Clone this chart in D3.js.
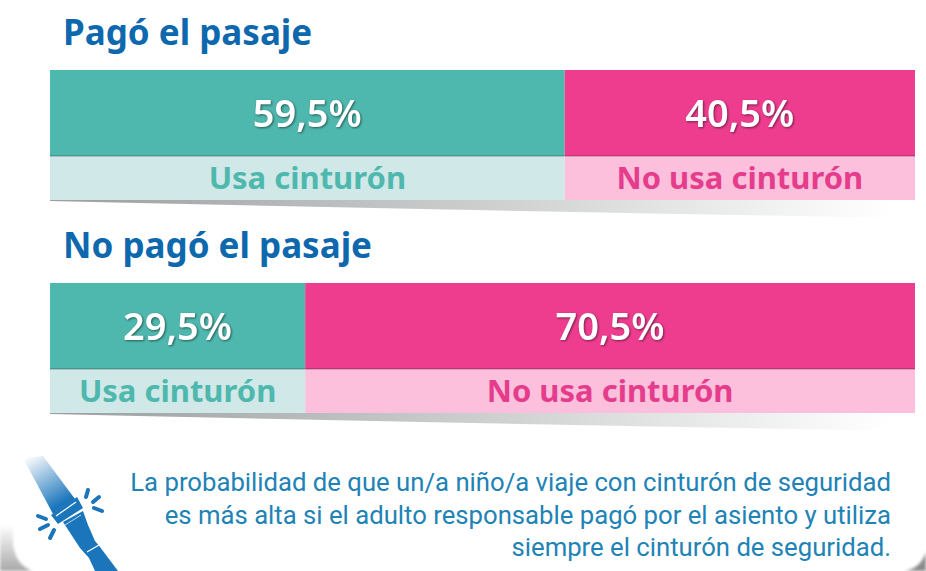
<!DOCTYPE html>
<html><head><meta charset="utf-8">
<script src="https://cdn.jsdelivr.net/npm/d3@7"></script>
<style>html,body{margin:0;padding:0;background:#fff;overflow:hidden}svg{display:block}text{font-family:"Noto Sans","Open Sans",sans-serif}</style>
</head><body><svg id="c" width="926" height="571"></svg>
<script>
const groups = ["Pagó el pasaje", "No pagó el pasaje"];
const usa = [59.5, 29.5];
const noUsa = [40.5, 70.5];
const categories = ["Usa cinturón", "No usa cinturón"];
const note = ["La probabilidad de que un/a niño/a viaje con cinturón de seguridad",
  "es más alta si el adulto responsable pagó por el asiento y utiliza",
  "siempre el cinturón de seguridad."];
const fmt = v => String(v).replace(".", ",") + "%";

const svg = d3.select("#c");
const x = d3.scaleLinear().domain([0, 100]).range([50, 915]);
const yTop = d3.scalePoint().domain(groups).range([70, 283]);
const barH = 86, labH = 44;
const defs = svg.append("defs");
const sg = defs.append("linearGradient").attr("id", "shade");
sg.append("stop").attr("offset", 0).attr("stop-color", "#9a9e9e");
sg.append("stop").attr("offset", .55).attr("stop-color", "#d2d4d4");
sg.append("stop").attr("offset", .97).attr("stop-color", "#fff");
const bg = defs.append("linearGradient").attr("id", "belt").attr("gradientUnits", "userSpaceOnUse").attr("x1", 30).attr("y1", 455).attr("x2", 60).attr("y2", 505);
bg.append("stop").attr("offset", 0).attr("stop-color", "#fff");
bg.append("stop").attr("offset", 1).attr("stop-color", "#1a75bb");
const cg = defs.append("linearGradient").attr("id", "card").attr("gradientUnits", "userSpaceOnUse").attr("x1", 0).attr("y1", 525).attr("x2", 0).attr("y2", 571);
cg.append("stop").attr("offset", 0).attr("stop-color", "#fff");
cg.append("stop").attr("offset", 1).attr("stop-color", "#a8a8a8");

groups.forEach((g, i) => {
  const t = yTop(g);
  svg.append("text").attr("x", 63).attr("y", t - 25).attr("font-size", 35).attr("font-weight", 700).attr("fill", "#0e68ad").text(g);
  const segs = [
    {a: 0, b: usa[i], c: "#4fb8ae", l: "#d0e8e7", tc: "#4fb8ae", cat: categories[0]},
    {a: usa[i], b: 100, c: "#ee3d8f", l: "#fdc0dc", tc: "#e63c8c", cat: categories[1]}
  ];
  const v = [usa[i], noUsa[i]];
  segs.forEach((s, j) => {
    const cx = (x(s.a) + x(s.b)) / 2;
    svg.append("rect").attr("x", x(s.a)).attr("y", t).attr("width", x(s.b) - x(s.a)).attr("height", barH).attr("fill", s.c);
    svg.append("rect").attr("x", x(s.a)).attr("y", t + barH).attr("width", x(s.b) - x(s.a)).attr("height", labH).attr("fill", s.l);
    svg.append("line").attr("x1", x(s.a)).attr("x2", x(s.b)).attr("y1", t + barH).attr("y2", t + barH)
      .attr("stroke", "#000").attr("stroke-opacity", .22).attr("stroke-width", 1.5);
    svg.append("text").attr("x", cx).attr("y", t + 57).attr("text-anchor", "middle").attr("font-size", 38).attr("font-weight", 600)
      .attr("fill", "#fff").style("filter", "drop-shadow(1px 1px 1px rgba(0,0,0,.5))").text(fmt(v[j]));
    svg.append("text").attr("x", cx).attr("y", t + barH + 33).attr("text-anchor", "middle").attr("font-size", 31).attr("font-weight", 700)
      .attr("fill", s.tc).text(s.cat);
  });
  const b = t + barH + labH;
  svg.append("path").attr("d", `M${x(0)},${b} L${x(100)},${b} L${x(100)},${b + 18} Q${x(50)},${b + 11} ${x(0)},${b + 1} Z`).attr("fill", "url(#shade)");
});

// card corner
svg.append("path").attr("d", "M13,515 V540 Q13,563 32,571 L0,571 L0,515 Z").attr("fill", "url(#card)").style("filter", "blur(1.5px)");
svg.append("path").attr("d", "M926,552 V571 H905 Q921,568 926,552 Z").attr("fill", "#8a8a8a").style("filter", "blur(1.5px)");

// belt icon
const belt = svg.append("g").attr("fill", "#1a75bb");
belt.append("path").attr("d", "M23,458 L43,456 L75,499 L53,514 Z").attr("fill", "url(#belt)");
belt.append("path").attr("d", "M51,515 L77,497 L83,508 L58,524 Z");
belt.append("path").attr("d", "M56,516 L76,502").attr("stroke", "#fff").attr("stroke-width", 1.2).attr("fill", "none");
belt.append("path").attr("d", "M63,522 L83,511 L88,525 L95,541 L100,547 L106,555 L118,571 L95,571 L89,558 L80,548 Z");
belt.append("path").attr("d", "M65,525 L81,515").attr("stroke", "#fff").attr("stroke-opacity", .7).attr("stroke-width", 1).attr("fill", "none");
belt.append("path").attr("d", "M87,552 L99,545").attr("stroke", "#fff").attr("stroke-width", 1.2).attr("fill", "none");
[[88,490,86,497],[99,497,93,502],[102,511,94,508],[38,516,46,519],[40,529,48,525],[50,538,54,530]].forEach(l =>
  belt.append("line").attr("x1", l[0]).attr("y1", l[1]).attr("x2", l[2]).attr("y2", l[3]).attr("stroke", "#1a75bb").attr("stroke-width", 4).attr("stroke-linecap", "round"));

svg.selectAll("text.note").data(note).join("text").attr("class", "note")
  .attr("x", 891).attr("y", (d, i) => 491 + i * 32.5).attr("text-anchor", "end")
  .style("font-family", "Roboto,sans-serif").attr("font-size", 25.7).attr("fill", "#2183b5").text(d => d);
</script></body></html>
